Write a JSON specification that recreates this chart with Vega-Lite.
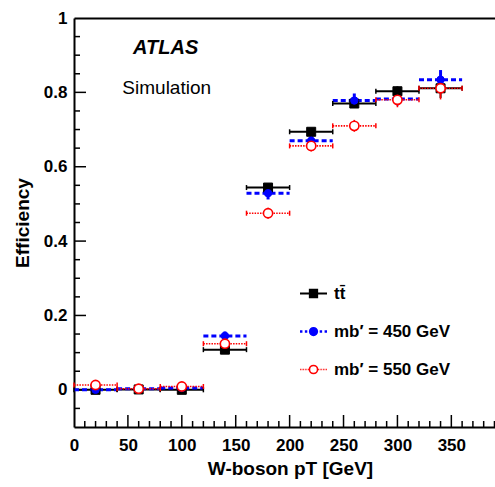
{
  "$schema": "https://vega.github.io/schema/vega-lite/v6.json",
  "width": 421,
  "height": 409,
  "autosize": {"type": "none"},
  "padding": {"left": 74, "top": 18, "right": 0, "bottom": 60},
  "background": "white",
  "config": {
    "view": {"stroke": null},
    "axis": {"grid": false, "labelFont": "Liberation Sans", "titleFont": "Liberation Sans", "labelColor": "black", "titleColor": "black", "tickColor": "black", "domainColor": "black"},
    "text": {"font": "Liberation Sans"}
  },
  "datasets": {
    "xmajor": [{"t": 50}, {"t": 100}, {"t": 150}, {"t": 200}, {"t": 250}, {"t": 300}, {"t": 350}],
    "xminor": [{"t": 10}, {"t": 20}, {"t": 30}, {"t": 40}, {"t": 60}, {"t": 70}, {"t": 80}, {"t": 90}, {"t": 110}, {"t": 120}, {"t": 130}, {"t": 140}, {"t": 160}, {"t": 170}, {"t": 180}, {"t": 190}, {"t": 210}, {"t": 220}, {"t": 230}, {"t": 240}, {"t": 260}, {"t": 270}, {"t": 280}, {"t": 290}, {"t": 310}, {"t": 320}, {"t": 330}, {"t": 340}, {"t": 360}, {"t": 370}, {"t": 380}, {"t": 390}],
    "ymajor": [{"t": 0}, {"t": 0.2}, {"t": 0.4}, {"t": 0.6}, {"t": 0.8}],
    "yminor": [{"t": -0.05}, {"t": 0.05}, {"t": 0.1}, {"t": 0.15}, {"t": 0.25}, {"t": 0.3}, {"t": 0.35}, {"t": 0.45}, {"t": 0.5}, {"t": 0.55}, {"t": 0.65}, {"t": 0.7}, {"t": 0.75}, {"t": 0.85}, {"t": 0.9}, {"t": 0.95}]
  },
  "data": {"values": [
    {"s": "tt", "lbl": "tt\u0304", "x": 20, "xlo": 0, "xhi": 40, "y": 0.000, "ylo": -0.001, "yhi": 0.001},
    {"s": "tt", "lbl": "tt\u0304", "x": 60, "xlo": 40, "xhi": 80, "y": 0.001, "ylo": -0.001, "yhi": 0.003},
    {"s": "tt", "lbl": "tt\u0304", "x": 100, "xlo": 80, "xhi": 120, "y": 0.000, "ylo": -0.002, "yhi": 0.002},
    {"s": "tt", "lbl": "tt\u0304", "x": 140, "xlo": 120, "xhi": 160, "y": 0.108, "ylo": 0.102, "yhi": 0.114},
    {"s": "tt", "lbl": "tt\u0304", "x": 180, "xlo": 160, "xhi": 200, "y": 0.544, "ylo": 0.535, "yhi": 0.553},
    {"s": "tt", "lbl": "tt\u0304", "x": 220, "xlo": 200, "xhi": 240, "y": 0.694, "ylo": 0.687, "yhi": 0.701},
    {"s": "tt", "lbl": "tt\u0304", "x": 260, "xlo": 240, "xhi": 280, "y": 0.770, "ylo": 0.761, "yhi": 0.779},
    {"s": "tt", "lbl": "tt\u0304", "x": 300, "xlo": 280, "xhi": 320, "y": 0.803, "ylo": 0.790, "yhi": 0.816},
    {"s": "tt", "lbl": "tt\u0304", "x": 340, "xlo": 320, "xhi": 360, "y": 0.811, "ylo": 0.785, "yhi": 0.830},
    {"s": "m450", "lbl": "mb\u2032 = 450 GeV", "x": 20, "xlo": 0, "xhi": 40, "y": 0.000, "ylo": -0.002, "yhi": 0.002},
    {"s": "m450", "lbl": "mb\u2032 = 450 GeV", "x": 60, "xlo": 40, "xhi": 80, "y": 0.003, "ylo": 0.000, "yhi": 0.006},
    {"s": "m450", "lbl": "mb\u2032 = 450 GeV", "x": 100, "xlo": 80, "xhi": 120, "y": 0.005, "ylo": 0.001, "yhi": 0.009},
    {"s": "m450", "lbl": "mb\u2032 = 450 GeV", "x": 140, "xlo": 120, "xhi": 160, "y": 0.145, "ylo": 0.133, "yhi": 0.157},
    {"s": "m450", "lbl": "mb\u2032 = 450 GeV", "x": 180, "xlo": 160, "xhi": 200, "y": 0.529, "ylo": 0.512, "yhi": 0.546},
    {"s": "m450", "lbl": "mb\u2032 = 450 GeV", "x": 220, "xlo": 200, "xhi": 240, "y": 0.670, "ylo": 0.654, "yhi": 0.686},
    {"s": "m450", "lbl": "mb\u2032 = 450 GeV", "x": 260, "xlo": 240, "xhi": 280, "y": 0.778, "ylo": 0.759, "yhi": 0.797},
    {"s": "m450", "lbl": "mb\u2032 = 450 GeV", "x": 300, "xlo": 280, "xhi": 320, "y": 0.782, "ylo": 0.765, "yhi": 0.799},
    {"s": "m450", "lbl": "mb\u2032 = 450 GeV", "x": 340, "xlo": 320, "xhi": 360, "y": 0.834, "ylo": 0.810, "yhi": 0.860},
    {"s": "m550", "lbl": "mb\u2032 = 550 GeV", "x": 20, "xlo": 0, "xhi": 40, "y": 0.013, "ylo": 0.009, "yhi": 0.017},
    {"s": "m550", "lbl": "mb\u2032 = 550 GeV", "x": 60, "xlo": 40, "xhi": 80, "y": 0.003, "ylo": -0.001, "yhi": 0.007},
    {"s": "m550", "lbl": "mb\u2032 = 550 GeV", "x": 100, "xlo": 80, "xhi": 120, "y": 0.009, "ylo": 0.003, "yhi": 0.015},
    {"s": "m550", "lbl": "mb\u2032 = 550 GeV", "x": 140, "xlo": 120, "xhi": 160, "y": 0.124, "ylo": 0.112, "yhi": 0.136},
    {"s": "m550", "lbl": "mb\u2032 = 550 GeV", "x": 180, "xlo": 160, "xhi": 200, "y": 0.475, "ylo": 0.460, "yhi": 0.490},
    {"s": "m550", "lbl": "mb\u2032 = 550 GeV", "x": 220, "xlo": 200, "xhi": 240, "y": 0.656, "ylo": 0.641, "yhi": 0.671},
    {"s": "m550", "lbl": "mb\u2032 = 550 GeV", "x": 260, "xlo": 240, "xhi": 280, "y": 0.710, "ylo": 0.694, "yhi": 0.726},
    {"s": "m550", "lbl": "mb\u2032 = 550 GeV", "x": 300, "xlo": 280, "xhi": 320, "y": 0.780, "ylo": 0.760, "yhi": 0.800},
    {"s": "m550", "lbl": "mb\u2032 = 550 GeV", "x": 340, "xlo": 320, "xhi": 360, "y": 0.811, "ylo": 0.781, "yhi": 0.841}
  ]},
  "resolve": {
    "axis": {"x": "independent", "y": "independent"},
    "scale": {"color": "independent", "fill": "independent", "stroke": "independent", "shape": "independent", "size": "independent", "strokeWidth": "independent", "strokeDash": "independent"}
  },
  "layer": [
    {
      "data": {"name": "xmajor"},
      "mark": {"type": "rule", "stroke": "#000000", "strokeWidth": 1.5},
      "encoding": {
        "x": {"field": "t", "type": "quantitative", "scale": {"domain": [0, 390.5], "nice": false, "zero": false}, "axis": null},
        "y": {"datum": -0.1, "type": "quantitative", "scale": {"domain": [-0.1, 1], "nice": false, "zero": false}, "axis": null},
        "y2": {"datum": -0.0677}
      }
    },
    {
      "data": {"name": "xminor"},
      "mark": {"type": "rule", "stroke": "#000000", "strokeWidth": 1.5},
      "encoding": {
        "x": {"field": "t", "type": "quantitative", "scale": {"domain": [0, 390.5], "nice": false, "zero": false}, "axis": null},
        "y": {"datum": -0.1, "type": "quantitative", "scale": {"domain": [-0.1, 1], "nice": false, "zero": false}, "axis": null},
        "y2": {"datum": -0.0839}
      }
    },
    {
      "data": {"name": "ymajor"},
      "mark": {"type": "rule", "stroke": "#000000", "strokeWidth": 1.5},
      "encoding": {
        "x": {"datum": 0, "type": "quantitative", "scale": {"domain": [0, 390.5], "nice": false, "zero": false}, "axis": null},
        "x2": {"datum": 11.13},
        "y": {"field": "t", "type": "quantitative", "scale": {"domain": [-0.1, 1], "nice": false, "zero": false}, "axis": null}
      }
    },
    {
      "data": {"name": "yminor"},
      "mark": {"type": "rule", "stroke": "#000000", "strokeWidth": 1.5},
      "encoding": {
        "x": {"datum": 0, "type": "quantitative", "scale": {"domain": [0, 390.5], "nice": false, "zero": false}, "axis": null},
        "x2": {"datum": 5.57},
        "y": {"field": "t", "type": "quantitative", "scale": {"domain": [-0.1, 1], "nice": false, "zero": false}, "axis": null}
      }
    },
    {
      "mark": {"type": "rule"},
      "encoding": {
        "x": {"field": "xlo", "type": "quantitative", "scale": {"domain": [0, 390.5], "nice": false, "zero": false},
              "axis": {"orient": "bottom", "title": "W-boson pT [GeV]", "values": [0, 50, 100, 150, 200, 250, 300, 350], "ticks": false, "labelPadding": 10, "labelFontSize": 17, "labelFontWeight": "bold", "labelFlush": false, "labelOverlap": false, "titleFontSize": 19, "titleFontWeight": "bold", "titlePadding": 6, "titleX": 216, "domainWidth": 2}},
        "x2": {"field": "xhi"},
        "y": {"field": "y", "type": "quantitative", "scale": {"domain": [-0.1, 1], "nice": false, "zero": false},
              "axis": {"orient": "left", "title": "Efficiency", "values": [0, 0.2, 0.4, 0.6, 0.8, 1], "format": "~g", "ticks": false, "labelPadding": 7, "labelFontSize": 17, "labelFontWeight": "bold", "labelOverlap": false, "labelFlush": false, "titleFontSize": 19, "titleFontWeight": "bold", "titlePadding": 11, "domainWidth": 2}},
        "color": {"field": "s", "type": "nominal", "scale": {"domain": ["tt", "m450", "m550"], "range": ["#000000", "#0000ff", "#ff0000"]}, "legend": null},
        "strokeDash": {"field": "s", "type": "nominal", "scale": {"domain": ["tt", "m450", "m550"], "range": [[1, 0], [5, 3], [1.5, 1.2]]}, "legend": null},
        "strokeWidth": {"field": "s", "type": "nominal", "scale": {"type": "ordinal", "domain": ["tt", "m450", "m550"], "range": [2, 3, 1.6]}, "legend": null}
      }
    },
    {
      "transform": [{"filter": "datum.s !== 'm450'"}, {"fold": ["xlo", "xhi"], "as": ["end", "xe"]}],
      "mark": {"type": "tick", "orient": "vertical", "size": 5, "thickness": 1.5, "opacity": 1},
      "encoding": {
        "x": {"field": "xe", "type": "quantitative", "scale": {"domain": [0, 390.5], "nice": false, "zero": false}, "axis": null},
        "y": {"field": "y", "type": "quantitative", "scale": {"domain": [-0.1, 1], "nice": false, "zero": false}, "axis": null},
        "color": {"field": "s", "type": "nominal", "scale": {"domain": ["tt", "m450", "m550"], "range": ["#000000", "#0000ff", "#ff0000"]}, "legend": null}
      }
    },
    {
      "mark": {"type": "rule"},
      "encoding": {
        "x": {"field": "x", "type": "quantitative", "scale": {"domain": [0, 390.5], "nice": false, "zero": false}, "axis": null},
        "y": {"field": "ylo", "type": "quantitative", "scale": {"domain": [-0.1, 1], "nice": false, "zero": false}, "axis": null},
        "y2": {"field": "yhi"},
        "color": {"field": "s", "type": "nominal", "scale": {"domain": ["tt", "m450", "m550"], "range": ["#000000", "#0000ff", "#ff0000"]}, "legend": null},
        "strokeWidth": {"field": "s", "type": "nominal", "scale": {"type": "ordinal", "domain": ["tt", "m450", "m550"], "range": [2, 3, 1.6]}, "legend": null}
      }
    },
    {
      "mark": {"type": "point", "opacity": 1, "filled": false},
      "encoding": {
        "x": {"field": "x", "type": "quantitative", "scale": {"domain": [0, 390.5], "nice": false, "zero": false},
              "axis": {"orient": "top", "title": null, "labels": false, "ticks": false, "domain": true, "domainWidth": 2}},
        "y": {"field": "y", "type": "quantitative", "scale": {"domain": [-0.1, 1], "nice": false, "zero": false}, "axis": null},
        "color": {"field": "s", "type": "nominal", "scale": {"domain": ["tt", "m450", "m550"], "range": ["#000000", "#0000ff", "#ff0000"]}, "legend": null},
        "fill": {"field": "s", "type": "nominal", "scale": {"domain": ["tt", "m450", "m550"], "range": ["#000000", "#0000ff", "#ffffff"]}, "legend": null},
        "shape": {"field": "s", "type": "nominal", "scale": {"domain": ["tt", "m450", "m550"], "range": ["square", "circle", "circle"]}, "legend": null},
        "size": {"field": "s", "type": "nominal", "scale": {"type": "ordinal", "domain": ["tt", "m450", "m550"], "range": [81, 55, 85]}, "legend": null},
        "strokeWidth": {"field": "s", "type": "nominal", "scale": {"type": "ordinal", "domain": ["tt", "m450", "m550"], "range": [1, 1, 1.6]}, "legend": null}
      }
    },
    {
      "mark": {"type": "point", "opacity": 1, "filled": false},
      "encoding": {
        "x": {"datum": 3000, "type": "quantitative", "scale": {"domain": [0, 390.5], "nice": false, "zero": false}, "axis": null},
        "y": {"field": "y", "type": "quantitative", "scale": {"domain": [-0.1, 1], "nice": false, "zero": false}, "axis": null},
        "shape": {"field": "lbl", "type": "nominal",
                  "scale": {"domain": ["tt\u0304", "mb\u2032 = 450 GeV", "mb\u2032 = 550 GeV"],
                            "range": ["M-1,0H1M-0.27,-0.27H0.27V0.27H-0.27Z",
                                      "M-1,0H-0.82M-0.64,0H-0.46M0.46,0H0.64M0.82,0H1M0.25,0A0.25,0.25 0 1,1 -0.25,0A0.25,0.25 0 1,1 0.25,0Z",
                                      "M-1,0H-0.94M-0.88,0H-0.82M-0.76,0H-0.7M-0.64,0H-0.58M-0.52,0H-0.46M-0.4,0H-0.34M0.34,0H0.4M0.46,0H0.52M0.58,0H0.64M0.7,0H0.76M0.82,0H0.88M0.94,0H1M0.3,0A0.3,0.3 0 1,1 -0.3,0A0.3,0.3 0 1,1 0.3,0Z"]},
                  "legend": {"orient": "none", "legendX": 224.5, "legendY": 261, "title": null, "padding": 0, "labelFont": "Liberation Sans", "labelFontSize": 17, "labelFontWeight": "bold", "labelColor": "black", "labelOffset": 5.5, "rowPadding": 14.5, "labelLimit": 300}},
        "color": {"field": "lbl", "type": "nominal", "scale": {"domain": ["tt\u0304", "mb\u2032 = 450 GeV", "mb\u2032 = 550 GeV"], "range": ["#000000", "#0000ff", "#ff0000"]}},
        "fill": {"field": "lbl", "type": "nominal", "scale": {"domain": ["tt\u0304", "mb\u2032 = 450 GeV", "mb\u2032 = 550 GeV"], "range": ["#000000", "#0000ff", "#ffffff"]}},
        "size": {"field": "lbl", "type": "nominal", "scale": {"type": "ordinal", "domain": ["tt\u0304", "mb\u2032 = 450 GeV", "mb\u2032 = 550 GeV"], "range": [729, 729, 729]}},
        "strokeWidth": {"field": "lbl", "type": "nominal", "scale": {"type": "ordinal", "domain": ["tt\u0304", "mb\u2032 = 450 GeV", "mb\u2032 = 550 GeV"], "range": [2, 2.5, 1.6]}}
      }
    },
    {
      "data": {"values": [{"label": "ATLAS"}]},
      "mark": {"type": "text", "font": "Liberation Sans", "fontSize": 20, "fontWeight": "bold", "fontStyle": "italic", "align": "center", "baseline": "middle", "color": "black"},
      "encoding": {
        "text": {"field": "label"},
        "x": {"datum": 85, "type": "quantitative", "scale": {"domain": [0, 390.5], "nice": false, "zero": false}, "axis": null},
        "y": {"datum": 0.919, "type": "quantitative", "scale": {"domain": [-0.1, 1], "nice": false, "zero": false}, "axis": null}
      }
    },
    {
      "data": {"values": [{"label": "Simulation"}]},
      "mark": {"type": "text", "font": "Liberation Sans", "fontSize": 19, "align": "center", "baseline": "middle", "color": "black"},
      "encoding": {
        "text": {"field": "label"},
        "x": {"datum": 86, "type": "quantitative", "scale": {"domain": [0, 390.5], "nice": false, "zero": false}, "axis": null},
        "y": {"datum": 0.812, "type": "quantitative", "scale": {"domain": [-0.1, 1], "nice": false, "zero": false}, "axis": null}
      }
    }
  ]
}
